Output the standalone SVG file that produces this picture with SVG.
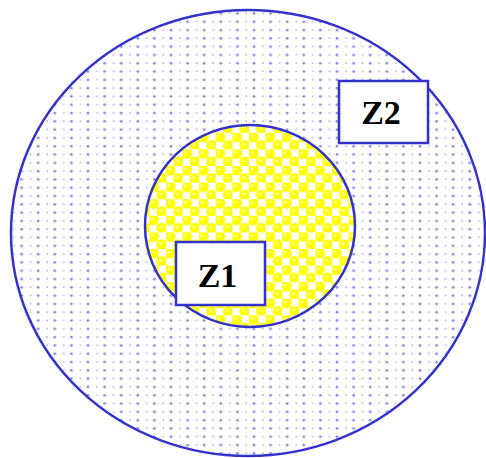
<svg xmlns="http://www.w3.org/2000/svg" width="486" height="458" viewBox="0 0 486 458">
<style>
.ring{stroke:#3333cc;stroke-width:2.5}
.box{fill:#ffffff;stroke:#3333cc;stroke-width:2.5}
.lbl{font-family:"Liberation Serif",serif;font-weight:bold;font-size:34px;fill:#000;text-anchor:middle}
</style>
<defs>
<pattern id="dots" width="16.6" height="8.3" patternUnits="userSpaceOnUse" x="3" y="3">
<rect width="16.6" height="8.3" fill="#ffffff"/>
<circle cx="2" cy="2" r="1.4" fill="#8a8aea"/>
<rect x="10.5" y="1.2" width="0.8" height="1.6" fill="#6a6ad8"/>
</pattern>
<pattern id="yel" width="16.6" height="16.6" patternUnits="userSpaceOnUse">
<rect width="16.6" height="16.6" fill="#ffffff"/>
<rect x="0" y="0" width="8.3" height="8.3" fill="#ffff33"/>
<rect x="8.3" y="8.3" width="8.3" height="8.3" fill="#ffff33"/>
<circle cx="4.15" cy="4.15" r="5.4" fill="#ffff00"/>
<circle cx="12.45" cy="12.45" r="5.4" fill="#ffff00"/>
<circle cx="3" cy="3" r="1.6" fill="#ffff99"/>
<circle cx="11.3" cy="11.3" r="1.6" fill="#ffff99"/>
</pattern>
</defs>
<g id="outer">
<ellipse class="ring" cx="248" cy="233" rx="237" ry="223" fill="url(#dots)"/>
</g>
<g id="inner">
<ellipse class="ring" cx="250" cy="226" rx="105" ry="101" fill="url(#yel)"/>
</g>
<g id="connectors"></g>
<g id="z2">
<rect class="box" x="339" y="81" width="89" height="62"/>
<text class="lbl" x="381" y="124">Z2</text>
</g>
<g id="z1">
<rect class="box" x="176" y="242" width="89" height="63"/>
<text class="lbl" x="217.5" y="287">Z1</text>
</g>
</svg>
